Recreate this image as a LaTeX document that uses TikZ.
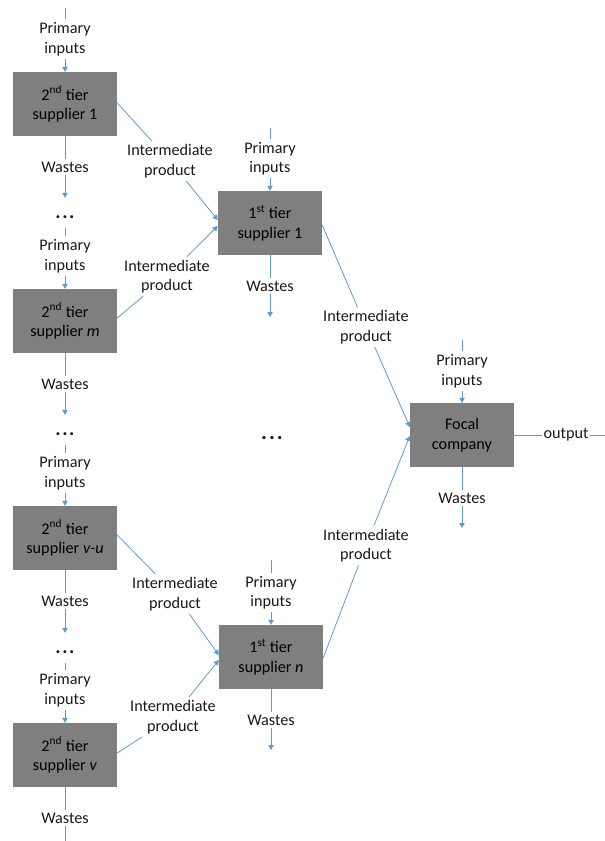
\documentclass[tikz,border=0pt]{standalone}
\usepackage{fontspec}
\setmainfont{Carlito}
\usetikzlibrary{arrows.meta,calc}
\definecolor{lineblue}{RGB}{91,155,213}
\definecolor{boxgray}{RGB}{127,127,127}
\definecolor{txt}{RGB}{25,25,25}
\begin{document}
\begin{tikzpicture}[x=1pt,y=-1pt,
 font=\fontsize{16.2}{19.5}\selectfont, text=txt,
 box/.style={fill=boxgray, minimum width=104pt, minimum height=64pt, inner sep=0pt, align=center, text=black},
 lab/.style={align=center, inner sep=3pt},
 flow/.style={draw=lineblue, line width=0.8pt},
 arr/.style={flow, -{Triangle[length=5pt,width=5.5pt]}},
 dotsn/.style={font=\fontsize{20}{22}\selectfont\bfseries, inner sep=0pt, text height=20pt, text depth=10pt, anchor=base},
]
\useasboundingbox (0,0) rectangle (605,841);

% boxes
\node[box] (b1)  at (65,104) {2\textsuperscript{nd} tier\\supplier 1};
\node[box] (bm)  at (65,321) {2\textsuperscript{nd} tier\\supplier \textit{m}};
\node[box] (bvu) at (65,538) {2\textsuperscript{nd} tier\\supplier \textit{v-u}};
\node[box] (bv)  at (65,755) {2\textsuperscript{nd} tier\\supplier \textit{v}};
\node[box] (t1)  at (270,223) {1\textsuperscript{st} tier\\supplier 1};
\node[box] (tn)  at (271,657) {1\textsuperscript{st} tier\\supplier \textit{n}};
\node[box] (f)   at (462,435) {Focal\\company};

% primary inputs labels
\node[lab] (p1)  at (65,39)  {Primary\\inputs};
\node[lab] (pm)  at (65,256) {Primary\\inputs};
\node[lab] (pvu) at (65,473) {Primary\\inputs};
\node[lab] (pv)  at (65,690) {Primary\\inputs};
\node[lab] (pt1) at (270,158.5) {Primary\\inputs};
\node[lab] (ptn) at (271,592.5) {Primary\\inputs};
\node[lab] (pf)  at (462,371) {Primary\\inputs};

% wastes labels
\node[lab] (w1)  at (65,167) {Wastes};
\node[lab] (wm)  at (65,384) {Wastes};
\node[lab] (wvu) at (65,601) {Wastes};
\node[lab] (wv)  at (65,818) {Wastes};
\node[lab] (wt1) at (270,286) {Wastes};
\node[lab] (wtn) at (271,720) {Wastes};
\node[lab] (wf)  at (462,498) {Wastes};

% dots
\node[dotsn] (d1) at (65,218) {.\kern1.5pt.\kern1.5pt.};
\node[dotsn] (d2) at (65,435) {.\kern1.5pt.\kern1.5pt.};
\node[dotsn] (d3) at (65,653) {.\kern1.5pt.\kern1.5pt.};
\node[font=\fontsize{22}{24}\selectfont\bfseries, inner sep=0pt] (mid) at (272,438) {.\kern2pt.\kern2pt.};

% intermediate product labels
\node[lab] (l1) at (170,161) {Intermediate\\product};
\node[lab] (l2) at (167,276.5) {Intermediate\\product};
\node[lab] (l3) at (366,327) {Intermediate\\product};
\node[lab] (l4) at (366,545.5) {Intermediate\\product};
\node[lab] (l5) at (175,594) {Intermediate\\product};
\node[lab] (l6) at (173,717) {Intermediate\\product};

% output
\node[lab, inner sep=1pt] (out) at (566,435) {output};

% free ends
\coordinate (top1) at (65,8);
\coordinate (topt1) at (270,128);
\coordinate (toptn) at (271,560);
\coordinate (topf) at (462,340);
\coordinate (endt1) at (270,317);
\coordinate (endtn) at (271,750);
\coordinate (endf) at (462,528);
\coordinate (endv) at (65,841);
\coordinate (endout) at (605,435);

% left column flows
\draw[flow] (top1) -- (p1);
\draw[arr] (p1) -- (b1);
\draw[flow] (b1) -- (w1);
\draw[arr] (w1) -- (d1);
\draw[flow] (d1) -- (pm);
\draw[arr] (pm) -- (bm);
\draw[flow] (bm) -- (wm);
\draw[arr] (wm) -- (d2);
\draw[flow] (d2) -- (pvu);
\draw[arr] (pvu) -- (bvu);
\draw[flow] (bvu) -- (wvu);
\draw[arr] (wvu) -- (d3);
\draw[flow] (d3) -- (pv);
\draw[arr] (pv) -- (bv);
\draw[flow] (bv) -- (wv);
\draw[flow] (wv) -- (endv);

% first tier flows
\draw[flow] (topt1) -- (pt1);
\draw[arr] (pt1) -- (t1);
\draw[flow] (t1) -- (wt1);
\draw[arr] (wt1) -- (endt1);
\draw[flow] (toptn) -- (ptn);
\draw[arr] (ptn) -- (tn);
\draw[flow] (tn) -- (wtn);
\draw[arr] (wtn) -- (endtn);

% focal flows
\draw[flow] (topf) -- (pf);
\draw[arr] (pf) -- (f);
\draw[flow] (f) -- (wf);
\draw[arr] (wf) -- (endf);
\draw[flow] (f) -- (out);
\draw[flow] (out) -- (endout);

% intermediate products
\draw[flow] ($(b1.east)+(0,-1)$) -- (l1);
\draw[arr] (l1) -- ($(t1.west)+(0,-3)$);
\draw[flow] ($(bm.east)+(0,-3)$) -- (l2);
\draw[arr] (l2) -- ($(t1.west)+(0,3)$);
\draw[flow] ($(t1.east)+(0,2)$) -- (l3);
\draw[arr] (l3) -- ($(f.west)+(0,-8)$);
\draw[flow] ($(tn.east)+(0,1)$) -- (l4);
\draw[arr] (l4) -- ($(f.west)+(0,1)$);
\draw[flow] ($(bvu.east)+(0,-3)$) -- (l5);
\draw[arr] (l5) -- ($(tn.west)+(0,-2)$);
\draw[flow] ($(bv.east)+(0,-2)$) -- (l6);
\draw[arr] (l6) -- ($(tn.west)+(0,3)$);
\end{tikzpicture}
\end{document}
